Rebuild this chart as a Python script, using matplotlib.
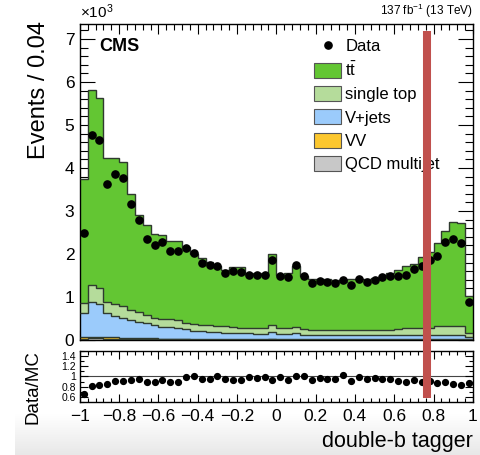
import numpy as np
import matplotlib
matplotlib.use("Agg")
import matplotlib.pyplot as plt
import matplotlib.transforms as mtransforms
from matplotlib.lines import Line2D
from matplotlib.patches import Patch
from matplotlib.ticker import MultipleLocator, FixedLocator, FuncFormatter

plt.rcParams['font.family'] = ['Liberation Sans', 'DejaVu Sans']
plt.rcParams['mathtext.fontset'] = 'custom'
plt.rcParams['mathtext.rm'] = 'Liberation Sans'
plt.rcParams['mathtext.it'] = 'Liberation Sans:italic'

# double-b tagger discriminant, 50 bins of 0.04
edges = np.linspace(-1, 1, 51)

# event counts in units of 10^3
data = [2.48, 4.77, 4.65, 3.63, 3.85, 3.76, 3.16, 2.79, 2.36, 2.21,
        2.28, 2.07, 2.07, 2.13, 2.03, 1.80, 1.74, 1.73, 1.55, 1.60,
        1.58, 1.51, 1.51, 1.51, 1.87, 1.50, 1.46, 1.74, 1.50, 1.33,
        1.38, 1.35, 1.32, 1.40, 1.29, 1.42, 1.36, 1.40, 1.46, 1.49,
        1.49, 1.52, 1.66, 1.73, 1.85, 1.95, 2.28, 2.36, 2.25, 0.89]

qcd = [0.03, 0.04, 0.04, 0.03, 0.03, 0.03, 0.02, 0.02, 0.02, 0.02,
       0.02, 0.02, 0.02, 0.02, 0.01, 0.01, 0.01, 0.01, 0.01, 0.01,
       0.01, 0.01, 0.01, 0.01, 0.02, 0.01, 0.01, 0.01, 0.01, 0.01,
       0.01, 0.01, 0.01, 0.01, 0.01, 0.01, 0.01, 0.01, 0.01, 0.01,
       0.01, 0.01, 0.01, 0.01, 0.01, 0.01, 0.01, 0.01, 0.01, 0.01]

vv = [0.03, 0.04, 0.03, 0.03, 0.03, 0.02, 0.02, 0.02, 0.02, 0.02,
      0.01, 0.01, 0.01, 0.01, 0.01, 0.01, 0.01, 0.01, 0.01, 0.01,
      0.01, 0.01, 0.01, 0.01, 0.01, 0.01, 0.01, 0.01, 0.01, 0.01,
      0.01, 0.01, 0.01, 0.01, 0.01, 0.01, 0.01, 0.01, 0.01, 0.01,
      0.01, 0.01, 0.01, 0.01, 0.01, 0.01, 0.01, 0.01, 0.01, 0.01]

vjets = [0.58, 0.81, 0.76, 0.56, 0.50, 0.47, 0.43, 0.39, 0.36, 0.32,
         0.28, 0.27, 0.25, 0.22, 0.20, 0.19, 0.17, 0.16, 0.15, 0.15,
         0.14, 0.14, 0.13, 0.13, 0.16, 0.12, 0.12, 0.14, 0.10, 0.10,
         0.10, 0.10, 0.10, 0.10, 0.10, 0.10, 0.10, 0.10, 0.10, 0.10,
         0.10, 0.09, 0.09, 0.09, 0.09, 0.09, 0.09, 0.09, 0.09, 0.04]

single_top = [0.23, 0.40, 0.39, 0.26, 0.28, 0.26, 0.23, 0.22, 0.18, 0.16,
              0.18, 0.18, 0.19, 0.15, 0.15, 0.15, 0.15, 0.15, 0.15, 0.14,
              0.13, 0.12, 0.12, 0.12, 0.15, 0.14, 0.13, 0.15, 0.13, 0.12,
              0.12, 0.11, 0.11, 0.11, 0.11, 0.11, 0.11, 0.12, 0.12, 0.12,
              0.13, 0.16, 0.16, 0.17, 0.18, 0.21, 0.22, 0.22, 0.22, 0.11]

ttbar = [2.87, 4.52, 4.42, 3.36, 3.40, 3.36, 2.70, 2.26, 2.09, 1.95,
         1.95, 1.82, 1.83, 1.77, 1.63, 1.54, 1.48, 1.40, 1.32, 1.40,
         1.41, 1.26, 1.28, 1.25, 1.66, 1.24, 1.30, 1.41, 1.23, 1.18,
         1.19, 1.18, 1.17, 1.13, 1.20, 1.20, 1.19, 1.21, 1.28, 1.33,
         1.38, 1.45, 1.50, 1.64, 1.76, 1.94, 2.21, 2.41, 2.40, 0.85]

# stacking order bottom -> top
samples = [
    ("QCD multijet", qcd, "#c8c8c8"),
    ("VV", vv, "#fcc72e"),
    ("V+jets", vjets, "#9bcbfb"),
    ("single top", single_top, "#b5dc9b"),
    (r"$\mathrm{t\bar{t}}$", ttbar, "#63c633"),
]

cut_value = 0.765

fig = plt.figure(figsize=(4.81, 4.55), dpi=100)

# light grey shading along the bottom edge of the page
shade = np.linspace(1.0, 0.91, 64)
grad = np.repeat(shade[:, None, None], 3, axis=2)
bg = fig.add_axes([0.031, 0.0, 0.969, 0.09], zorder=-5)
bg.imshow(grad, aspect="auto", extent=(0, 1, 0, 1), origin="upper")
bg.set_axis_off()

ax = fig.add_axes([0.166, 0.2527, 0.817, 0.6945])
rax = fig.add_axes([0.166, 0.1165, 0.817, 0.1121])

centers = 0.5 * (edges[:-1] + edges[1:])
bottom = np.zeros(len(centers))
for name, vals, col in samples:
    top = bottom + np.asarray(vals)
    ax.stairs(top, edges, baseline=bottom, fill=True, facecolor=col,
              edgecolor="none", zorder=2)
    ax.stairs(top, edges, baseline=None, color="#2f3a2f", lw=1.0, zorder=3)
    bottom = top
total = bottom

ax.plot(centers, data, "o", color="black", ms=5.2, zorder=5)

ax.set_xlim(-1, 1)
ax.set_ylim(0, 7.35)
ax.xaxis.set_major_locator(MultipleLocator(0.2))
ax.xaxis.set_minor_locator(MultipleLocator(0.04))
ax.yaxis.set_major_locator(MultipleLocator(1))
ax.yaxis.set_minor_locator(MultipleLocator(0.2))
ax.tick_params(axis="x", labelbottom=False)
ax.set_ylabel("Events / 0.04", fontsize=17, loc="top")
ax.yaxis.set_label_coords(-0.077, 1.01)

# ratio panel
ratio = np.asarray(data) / total
rax.axhline(1.0, color="#444444", lw=0.8, zorder=1)
rax.plot(centers, ratio, "o", color="black", ms=4.2, zorder=5)
rax.set_xlim(-1, 1)
rax.set_ylim(0.5, 1.5)
rax.xaxis.set_major_locator(MultipleLocator(0.2))
rax.xaxis.set_minor_locator(MultipleLocator(0.04))
rax.yaxis.set_major_locator(FixedLocator([0.6, 0.8, 1.0, 1.2, 1.4]))
rax.yaxis.set_minor_locator(MultipleLocator(0.1))
rax.yaxis.set_major_formatter(FuncFormatter(lambda v, p: "%g" % round(v, 2)))
rax.xaxis.set_major_formatter(
    FuncFormatter(lambda v, p: ("%g" % round(v, 2)).replace("-", "\u2212")))
rax.set_ylabel("Data/MC", fontsize=13.5, loc="top")
rax.yaxis.set_label_coords(-0.097, 1.02)
rax.set_xlabel("double-b tagger", fontsize=15.5, loc="right", labelpad=5)

for a in (ax, rax):
    a.tick_params(which="both", direction="in", top=True, right=True,
                  width=0.8, colors="black")
    for s in a.spines.values():
        s.set_linewidth(1.0)
ax.tick_params(which="major", length=11, labelsize=12.5, pad=4)
ax.tick_params(which="minor", length=6)
ax.tick_params(axis="x", which="major", length=7)
ax.tick_params(axis="x", which="minor", length=4)
rax.tick_params(which="major", length=6, pad=3)
rax.tick_params(which="minor", length=3)
rax.tick_params(axis="y", labelsize=7.5)
rax.tick_params(axis="x", labelsize=12.5, pad=5)

# legend
handles = [Line2D([], [], marker="o", ls="none", color="black", ms=5.2)]
labels = ["Data"]
for name, vals, col in samples[::-1]:
    handles.append(Patch(facecolor=col, edgecolor="#555555", lw=0.8))
    labels.append(name)
ax.legend(handles, labels, loc="upper left", bbox_to_anchor=(0.597, 0.956),
          frameon=False, fontsize=12, handlelength=1.6, handleheight=1.0,
          handletextpad=0.25, labelspacing=0.42, borderpad=0, borderaxespad=0)

ax.text(0.05, 0.955, "CMS", transform=ax.transAxes, fontsize=13,
        fontweight="bold", va="top", ha="left")
ax.text(0.0, 1.01, r"$\times$10$^{3}$", transform=ax.transAxes,
        fontsize=11, va="bottom", ha="left")
ax.text(1.0, 1.012, r"137 fb$^{-1}$ (13 TeV)", transform=ax.transAxes,
        fontsize=8.5, va="bottom", ha="right")

# marker band at the working point, drawn across both panels
trans = mtransforms.blended_transform_factory(ax.transData, fig.transFigure)
fig.add_artist(Line2D([cut_value, cut_value], [0.125, 0.931],
                      transform=trans, color="#c0504d", lw=5.8,
                      solid_capstyle="butt", zorder=10))

fig.savefig("out.png", dpi=100)
